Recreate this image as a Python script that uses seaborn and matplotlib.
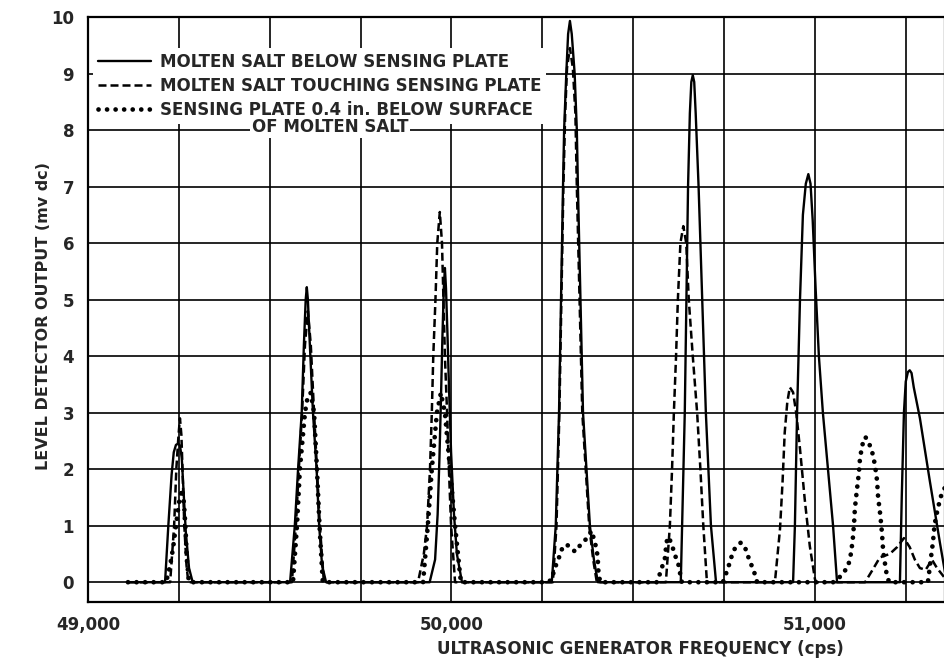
import numpy as np
import pandas as pd
import matplotlib
matplotlib.use("Agg")
import matplotlib.pyplot as plt
import seaborn as sns

# ---------------------------------------------------------------------------
# Data (frequency in cps, output in mv dc)
# ---------------------------------------------------------------------------

below_freq = [49110, 49212, 49221, 49230, 49236, 49242, 49248, 49253, 49258, 49263, 49269, 49278, 49288,
              49556, 49569, 49578, 49588, 49594, 49599, 49602, 49605, 49609, 49619, 49629, 49636, 49644, 49655,
              49940, 49955, 49962, 49967, 49971, 49975, 49979, 49982, 49985, 49989, 49993, 49999, 50007,
              50015, 50029,
              50276, 50287, 50296, 50307, 50310, 50316, 50321, 50326, 50331, 50339, 50345, 50348,
              50362, 50381, 50392, 50403,
              50631, 50642, 50651, 50656, 50660, 50664, 50668, 50672, 50680, 50700, 50714, 50728,
              50940, 50945, 50951, 50959, 50967, 50975, 50982, 50988, 50994, 51002, 51011, 51022, 51036,
              51050, 51061,
              51234, 51239, 51245, 51250, 51256, 51261, 51266, 51272, 51289, 51316, 51344, 51360]
below_mv = [0, 0, 1.0, 1.9, 2.3, 2.43, 2.45, 2.42, 2.2, 1.6, 0.9, 0.25, 0,
            0, 1.0, 2.0, 3.0, 4.2, 5.0, 5.22, 5.0, 4.4, 3.0, 2.0, 1.0, 0.3, 0,
            0, 0.4, 1.2, 2.2, 3.2, 4.3, 5.2, 5.56, 5.2, 4.4, 3.5, 2.3, 1.2,
            0.5, 0,
            0, 1.0, 3.0, 7.0, 8.0, 9.0, 9.7, 9.93, 9.7, 9.0, 8.0, 7.0,
            3.0, 1.0, 0.4, 0,
            0, 3.0, 7.0, 8.3, 8.85, 8.97, 8.85, 8.3, 7.0, 3.0, 1.0, 0,
            0, 1.0, 3.0, 5.0, 6.5, 7.05, 7.22, 7.05, 6.4, 5.2, 4.0, 3.0, 2.0,
            1.0, 0,
            0, 1.5, 3.0, 3.55, 3.72, 3.75, 3.7, 3.45, 2.9, 1.8, 0.7, 0.1]

touch_freq = [49110, 49226, 49237, 49243, 49249, 49253, 49257, 49260, 49265, 49271, 49276,
              49561, 49572, 49580, 49589, 49597, 49605, 49613, 49622, 49630, 49638, 49649,
              49908, 49924, 49933, 49941, 49946, 49950, 49956, 49961, 49968, 49974, 49978, 49982,
              49988, 49993, 49999, 50010,
              50279, 50289, 50297, 50308, 50313, 50318, 50326, 50334, 50341, 50345, 50360, 50379,
              50390, 50400,
              50590, 50601, 50607, 50612, 50618, 50623, 50630, 50638, 50646, 50653, 50664, 50676,
              50685, 50693, 50703,
              50890, 50904, 50911, 50917, 50924, 50931, 50940, 50949, 50959, 50972, 50986, 51000, 51003,
              51138, 51157, 51179, 51206, 51226, 51245, 51261, 51275, 51289, 51305, 51322, 51336,
              51352, 51360]
touch_mv = [0, 0, 1.0, 2.0, 2.6, 2.9, 2.6, 2.0, 1.0, 0.3, 0,
            0, 1.0, 2.0, 3.0, 4.2, 4.8, 4.2, 3.0, 2.0, 1.0, 0,
            0, 0.5, 1.0, 2.0, 3.0, 4.0, 5.0, 6.0, 6.55, 6.0, 5.0, 4.0,
            3.0, 2.0, 1.0, 0,
            0, 1.0, 3.0, 7.0, 8.3, 9.1, 9.45, 9.1, 8.3, 7.0, 3.0, 1.0,
            0.4, 0,
            0, 1.0, 2.0, 3.0, 4.0, 5.0, 6.0, 6.3, 6.0, 5.0, 4.0, 3.0,
            2.0, 1.0, 0,
            0, 0.94, 1.77, 2.65, 3.18, 3.45, 3.36, 2.98, 2.36, 1.47, 0.64, 0.06, 0,
            0, 0.2, 0.44, 0.5, 0.62, 0.78, 0.62, 0.4, 0.25, 0.22, 0.4, 0.25,
            0.12, 0.05]

surface_freq = [49110, 49215, 49226, 49234, 49242, 49250, 49259, 49264, 49268, 49272, 49278,
                49564, 49575, 49583, 49597, 49605, 49613, 49622, 49630, 49637, 49646,
                49922, 49935, 49946, 49960, 49971, 49982, 49996, 50010, 50021, 50026,
                50265, 50276, 50284, 50294, 50301, 50315, 50326, 50340, 50355, 50370, 50386,
                50390, 50395, 50400, 50403, 50404, 50409,
                50565, 50571, 50578, 50587, 50592, 50596, 50601, 50608, 50615, 50624, 50629, 50634,
                50747, 50761, 50771, 50780, 50796, 50807, 50816, 50825, 50835, 50841,
                51050, 51063, 51091, 51099, 51104, 51108, 51110, 51115, 51121, 51124, 51130, 51139,
                51149, 51160, 51166, 51171, 51174, 51179, 51183, 51186, 51188, 51197, 51204,
                51311, 51322, 51325, 51327, 51330, 51338, 51344, 51349, 51360]
surface_mv = [0, 0, 0.3, 0.6, 1.0, 1.4, 1.65, 1.4, 1.0, 0.4, 0,
              0, 1.0, 2.0, 3.0, 3.3, 3.35, 3.0, 2.0, 1.0, 0,
              0, 1.0, 2.0, 3.0, 3.35, 3.0, 2.0, 1.0, 0.3, 0,
              0, 0.05, 0.25, 0.39, 0.56, 0.67, 0.63, 0.54, 0.66, 0.76, 0.91,
              0.81, 0.69, 0.57, 0.36, 0.22, 0,
              0, 0.1, 0.24, 0.41, 0.71, 0.8, 0.75, 0.63, 0.48, 0.33, 0.16, 0,
              0, 0.25, 0.46, 0.6, 0.7, 0.63, 0.46, 0.31, 0.14, 0,
              0, 0.05, 0.27, 0.5, 0.74, 1.06, 1.3, 1.6, 1.93, 2.18, 2.42, 2.57,
              2.46, 2.25, 2.04, 1.8, 1.5, 1.24, 0.99, 0.74, 0.53, 0.16, 0,
              0, 0.57, 0.71, 0.87, 1.04, 1.3, 1.45, 1.57, 1.7]

series_labels = ["MOLTEN SALT BELOW SENSING PLATE",
                 "MOLTEN SALT TOUCHING SENSING PLATE",
                 "SENSING PLATE 0.4 in. BELOW SURFACE"]
label_tail = "OF MOLTEN SALT"

x_ticks = [49000, 49250, 49500, 49750, 50000, 50250, 50500, 50750, 51000, 51250]
x_ticklabels = ["49,000", "", "", "", "50,000", "", "", "", "51,000", ""]
y_ticks = [0, 1, 2, 3, 4, 5, 6, 7, 8, 9, 10]

# ---------------------------------------------------------------------------
# Plot
# ---------------------------------------------------------------------------

sns.set_style("white")
plt.rcParams["font.family"] = ["DejaVu Sans"]
plt.rcParams["font.weight"] = "bold"
plt.rcParams["axes.labelweight"] = "bold"

fig = plt.figure(figsize=(9.45, 6.64), dpi=100)
ax = fig.add_axes([88 / 945, 1 - 602 / 664, 1 - 88 / 945, (602 - 17) / 664])

below = pd.DataFrame({"freq": below_freq, "mv": below_mv})
touch = pd.DataFrame({"freq": touch_freq, "mv": touch_mv})
surface = pd.DataFrame({"freq": surface_freq, "mv": surface_mv})

sns.lineplot(data=surface, x="freq", y="mv", ax=ax, color="black", lw=3.4,
             linestyle=(0, (0.01, 1.8)), dash_capstyle="round", sort=False,
             estimator=None, label=series_labels[2], zorder=3)
sns.lineplot(data=touch, x="freq", y="mv", ax=ax, color="black", lw=1.8,
             linestyle=(0, (3.2, 1.6)), sort=False, estimator=None,
             label=series_labels[1], zorder=4)
sns.lineplot(data=below, x="freq", y="mv", ax=ax, color="black", lw=1.7,
             sort=False, estimator=None, label=series_labels[0], zorder=5)

ax.set_xlim(49000, 51358)
ax.set_ylim(-0.35, 10)
ax.set_xticks(x_ticks)
ax.set_xticklabels(x_ticklabels, fontsize=12)
ax.set_yticks(y_ticks)
ax.set_yticklabels([str(v) for v in y_ticks], fontsize=12)
ax.tick_params(length=0, pad=10)
ax.grid(True, color="black", lw=1.2)
ax.set_axisbelow(True)
for sp in ax.spines.values():
    sp.set_color("black")
    sp.set_linewidth(1.6)

ax.set_xlabel("ULTRASONIC GENERATOR FREQUENCY (cps)", fontsize=12, fontweight="bold")
ax.set_ylabel("LEVEL DETECTOR OUTPUT (mv dc)", fontsize=11.5, fontweight="bold")
ax.xaxis.set_label_coords(0.645, -0.065)
ax.yaxis.set_label_coords(-0.043, 0.489)

# legend in the same order as the scan
handles, labels = ax.get_legend_handles_labels()
order = [2, 1, 0]
leg = ax.legend([handles[i] for i in order], [labels[i] for i in order],
                loc="upper left", bbox_to_anchor=(0.0, 0.955), fontsize=12,
                handlelength=3.2, handletextpad=0.5, labelspacing=0.35,
                frameon=True, framealpha=1, facecolor="white", edgecolor="none",
                borderpad=0.3, borderaxespad=0.3)
leg.set_zorder(10)

ax.text(49666, 8.05, label_tail, ha="center", va="center", fontsize=12, zorder=11,
        bbox=dict(facecolor="white", edgecolor="none", pad=1.5))

fig.savefig("out.png", dpi=100)
